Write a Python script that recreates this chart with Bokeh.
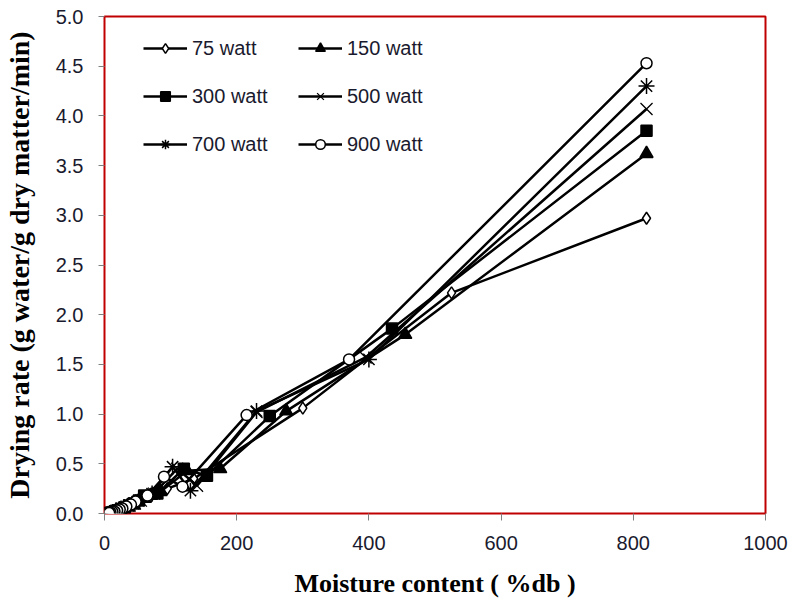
from bokeh.plotting import figure
from bokeh.models import Range1d, FixedTicker, Legend, CustomJSTickFormatter
from bokeh.embed import file_html
from bokeh.resources import INLINE

# Moisture content (% db) and drying rate for each microwave power
x_75 = [820, 525, 300, 135, 95, 70, 58, 50, 42, 35, 29, 25, 21, 18, 15, 12, 10]
y_75 = [2.97, 2.22, 1.06, 0.35, 0.25, 0.17, 0.14, 0.11, 0.09, 0.07, 0.05, 0.04, 0.03, 0.02, 0.015, 0.01, 0.005]
x_150 = [820, 455, 275, 175, 125, 85, 70, 60, 50, 42, 35, 30, 24, 20, 16, 13, 10]
y_150 = [3.62, 1.80, 1.03, 0.45, 0.43, 0.22, 0.18, 0.15, 0.12, 0.10, 0.08, 0.06, 0.04, 0.03, 0.02, 0.01, 0.005]
x_300 = [820, 435, 250, 155, 120, 80, 60, 52, 45, 37, 30, 25, 20, 16, 12, 9]
y_300 = [3.85, 1.86, 0.98, 0.38, 0.45, 0.20, 0.18, 0.13, 0.10, 0.08, 0.06, 0.04, 0.03, 0.02, 0.01, 0.005]
x_500 = [820, 395, 230, 140, 110, 75, 55, 46, 38, 31, 26, 21, 17, 14, 11, 9]
y_500 = [4.07, 1.57, 1.02, 0.28, 0.45, 0.20, 0.13, 0.10, 0.08, 0.06, 0.05, 0.03, 0.02, 0.015, 0.01, 0.005]
x_700 = [820, 400, 230, 130, 103, 72, 52, 44, 37, 30, 25, 21, 17, 13, 10, 8]
y_700 = [4.30, 1.55, 1.03, 0.23, 0.47, 0.20, 0.13, 0.10, 0.08, 0.06, 0.05, 0.03, 0.02, 0.015, 0.01, 0.005]
x_900 = [820, 370, 215, 118, 90, 65, 47, 40, 33, 27, 23, 19, 15, 12, 9, 7]
y_900 = [4.53, 1.55, 0.99, 0.27, 0.37, 0.18, 0.12, 0.09, 0.07, 0.05, 0.04, 0.03, 0.02, 0.015, 0.01, 0.005]

labels = ["75 watt", "150 watt", "300 watt", "500 watt", "700 watt", "900 watt"]
x_ticks = [0, 200, 400, 600, 800, 1000]
y_ticks = [0.0, 0.5, 1.0, 1.5, 2.0, 2.5, 3.0, 3.5, 4.0, 4.5, 5.0]

series = [
    (x_75, y_75, "diamond", "white", 12, 1.5),
    (x_150, y_150, "triangle", "black", 13, 1.5),
    (x_300, y_300, "square", "black", 11, 1.5),
    (x_500, y_500, "x", "black", 17, 1.3),
    (x_700, y_700, "asterisk", "black", 16, 1.5),
    (x_900, y_900, "circle", "white", 11, 1.5),
]

p = figure(width=790, height=600, output_backend="svg", toolbar_location=None,
           x_range=Range1d(0, 1000), y_range=Range1d(0, 5.0),
           min_border_left=104, min_border_right=25, min_border_top=16, min_border_bottom=87)
p.background_fill_color = "white"
p.border_fill_color = "white"
p.outline_line_color = "#c00000"
p.outline_line_width = 2
p.xgrid.visible = False
p.ygrid.visible = False

items = []
for (xs, ys, mk, fill, sz, lw), lab in zip(series, labels):
    r1 = p.line(xs, ys, line_color="black", line_width=2.5)
    r2 = p.scatter(xs, ys, marker=mk, size=sz, line_color="black", fill_color=fill, line_width=lw)
    items.append((lab, [r1, r2]))

legend = Legend(items=items, location=(39, 357), orientation="horizontal", ncols=2,
                border_line_color=None, background_fill_alpha=0,
                label_text_font="Liberation Sans", label_text_font_size="20px",
                label_text_color="#1a1a2e", glyph_width=44, glyph_height=24,
                label_standoff=5, label_width=82, spacing=24, padding=0, margin=0)
p.add_layout(legend)

for ax in (p.xaxis[0], p.yaxis[0]):
    ax.axis_line_color = None
    ax.major_tick_line_color = "#808080"
    ax.major_tick_line_width = 1
    ax.major_tick_in = 0
    ax.major_tick_out = 6
    ax.minor_tick_line_color = None
    ax.major_label_text_font = "Liberation Sans"
    ax.major_label_text_font_size = "20px"
    ax.major_label_text_color = "#1a1a2e"
    ax.axis_label_text_font = "Liberation Serif"
    ax.axis_label_text_font_style = "bold"
    ax.axis_label_text_color = "black"

p.xaxis[0].ticker = FixedTicker(ticks=x_ticks)
p.yaxis[0].ticker = FixedTicker(ticks=y_ticks)
p.yaxis[0].formatter = CustomJSTickFormatter(code="return tick.toFixed(1);")
p.xaxis[0].major_tick_out = 7
p.xaxis[0].major_label_standoff = 15
p.yaxis[0].major_label_standoff = 15
p.xaxis[0].axis_label = "Moisture content ( %db )"
p.yaxis[0].axis_label = "Drying rate (g water/g dry matter/min)"
p.xaxis[0].axis_label_text_font_size = "26px"
p.yaxis[0].axis_label_text_font_size = "28px"
p.xaxis[0].axis_label_standoff = 16
p.yaxis[0].axis_label_standoff = 18

open("out.html", "w").write(file_html(p, INLINE))
